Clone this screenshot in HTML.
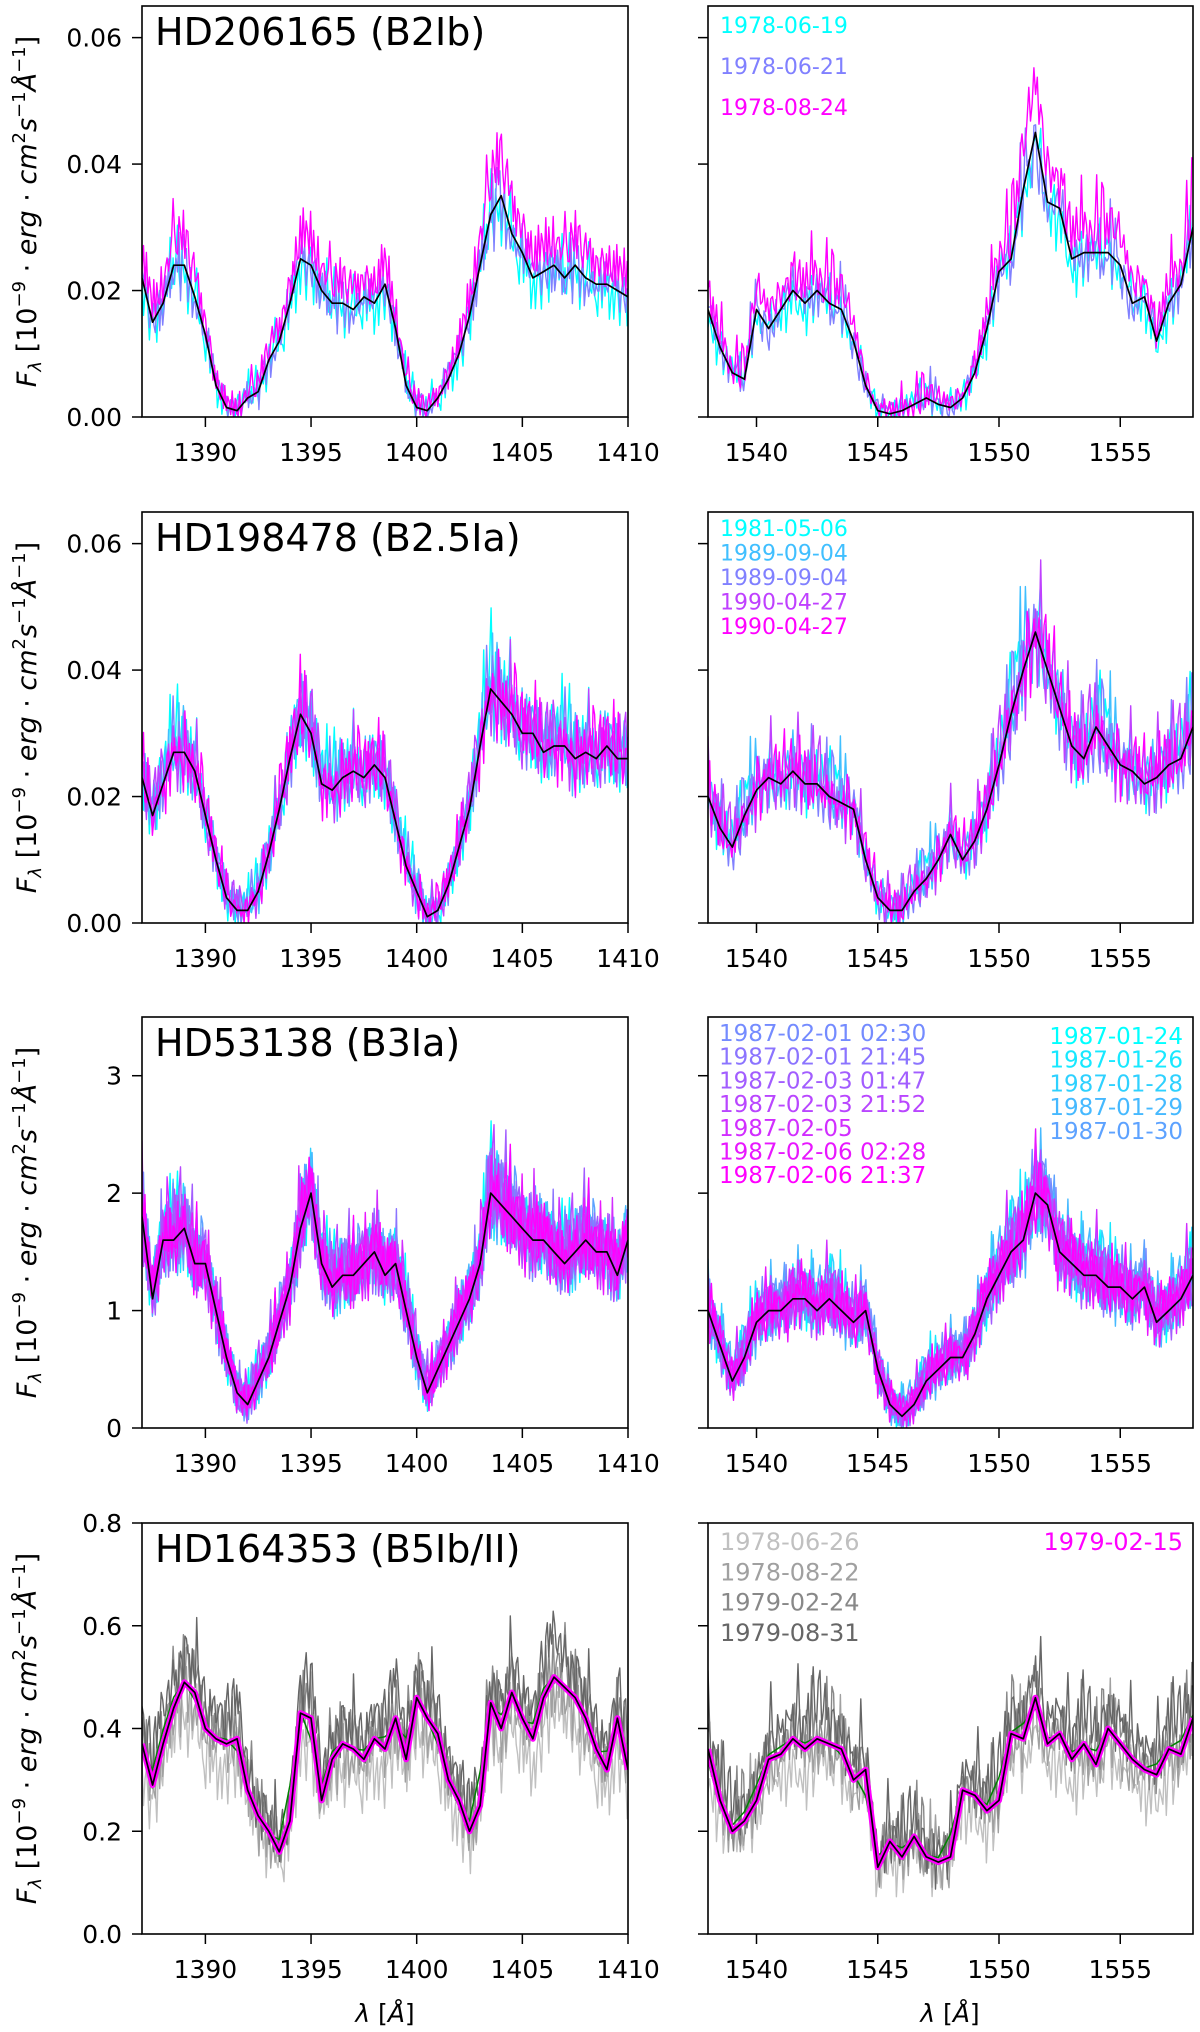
<!DOCTYPE html>
<html><head><meta charset="utf-8">
<style>
html,body{margin:0;padding:0;background:#fff;}
svg{display:block;font-family:"DejaVu Sans","Liberation Sans",sans-serif;}
</style></head>
<body>
<svg id="fig" width="1200" height="2032" viewBox="0 0 1200 2032" xmlns="http://www.w3.org/2000/svg"></svg>
<script>
// ---------- data ----------
const leftStart = 1387, rightStart = 1538, meanStep = 0.5;
const r1Left = [22,15,18,24,24,19,13,5,1.5,1,3,4,9,12,18,25,24,20,18,18,17,19,18,21,14,5,1.5,1,3,6,10,16,24,32,35,29,26,22,23,24,22,24,22,21,21,20,19];
const r1Right = [17,11,7,6,17,14,17,20,18,20,18,17,12,5,1,0.5,1,2,3,2,1.5,3,7,14,23,25,36,45,34,33,25,26,26,26,24,18,19,12,18,21,30];
const r2Left = [23,17,22,27,27,24,17,10,4,2,2,5,11,18,26,33,30,22,21,23,24,23,25,23,16,9,5,1,2,6,12,18,28,37,35,33,30,30,27,28,28,26,27,26,28,26,26];
const r2Right = [20,15,12,17,21,23,22,24,22,22,20,19,18,10,4,2,2,5,7,10,14,10,13,18,25,33,40,46,40,34,28,26,31,28,25,24,22,23,25,26,31];
const r3Left = [18,11,16,16,17,14,14,10,6,3,2,4,6,9,12,17,20,14,12,13,13,14,15,13,14,10,6,3,5,7,9,11,14,20,19,18,17,16,16,15,14,15,16,15,15,13,16];
const r3Right = [10,7,4,6,9,10,10,11,11,10,11,10,9,10,5,2,1,2,4,5,6,6,8,11,13,15,16,20,19,15,14,13,13,12,12,11,12,9,10,11,13];
const r4Left = [37,29,37,44,49,47,40,38,37,38,28,23,20,16,22,43,42,26,34,37,36,34,38,36,42,34,46,42,39,30,26,20,25,45,40,47,42,38,46,50,48,46,42,36,32,42,32];
const r4Right = [36,26,20,22,26,34,35,38,36,38,37,36,30,32,13,18,15,19,15,14,15,28,27,24,26,39,38,46,37,39,34,37,33,40,37,34,32,31,36,35,42];
const rowUnits = [0.001,0.001,0.1,0.01];
const jitter = [0.3,-0.8,0.5,1.0,-0.2,-0.9,0.6,0.1,-0.5,0.9,-1.0,0.4,0.7,-0.3,-0.7,0.2,0.8,-0.6,0.0,1.0,-0.4,0.5,-0.9,0.3,0.6,-0.1,-0.8,0.9,0.2,-0.5,0.7,-1.0,0.4,0.1,-0.6,0.8,-0.2,0.5,-0.7,0.3,0.9,-0.4,0.0,-0.9,0.6,0.2,-0.3,1.0,-0.5,0.4,0.7,-0.8,0.1];
const yMax = [0.065,0.065,3.5,0.8];
const yTicks = [[0,0.02,0.04,0.06],[0,0.02,0.04,0.06],[0,1,2,3],[0,0.2,0.4,0.6,0.8]];
const yTickLabels = [["0.00","0.02","0.04","0.06"],["0.00","0.02","0.04","0.06"],["0","1","2","3"],["0.0","0.2","0.4","0.6","0.8"]];
const leftTicks = [1390,1395,1400,1405,1410];
const rightTicks = [1540,1545,1550,1555];
const titles = ["HD206165 (B2Ib)","HD198478 (B2.5Ia)","HD53138 (B3Ia)","HD164353 (B5Ib/II)"];
const r1Colors = ["#00ffff","#8080ff","#ff00ff"];
const r1Scale = [0.95,0.97,1.15];
const r1Labels = ["1978-06-19","1978-06-21","1978-08-24"];
const r2Colors = ["#00ffff","#40bfff","#8080ff","#bf40ff","#ff00ff"];
const r2Scale = [1.03,1.0,0.98,1.0,0.99];
const r2Labels = ["1981-05-06","1989-09-04","1989-09-04","1990-04-27","1990-04-27"];
const r3Colors = ["#00ffff","#17e8ff","#2ed1ff","#46b9ff","#5da2ff","#748bff","#8b74ff","#a25dff","#b946ff","#d12eff","#e817ff","#ff00ff"];
const r3Scale = [1.02,1.0,1.01,0.99,1.0,1.0,1.01,0.99,1.0,1.02,0.98,1.0];
const r3LeftLabels = ["1987-02-01 02:30","1987-02-01 21:45","1987-02-03 01:47","1987-02-03 21:52","1987-02-05","1987-02-06 02:28","1987-02-06 21:37"];
const r3RightLabels = ["1987-01-24","1987-01-26","1987-01-28","1987-01-29","1987-01-30"];
const r4Colors = ["#c0c0c0","#a0a0a0","#888888","#666666"];
const r4Scale = [0.85,0.95,1.06,1.12];
const r4Labels = ["1978-06-26","1978-08-22","1979-02-24","1979-08-31"];
const noiseAmp = [0.0036,0.0045,0.22,0.045];

// ---------- layout ----------
const NS="http://www.w3.org/2000/svg";
const svg=document.getElementById('fig');
const rowTop=[6,512,1017,1523], rowH=411;
const panelX=[[142,628],[708,1193]];
const xr=[[1387,1410],[1538,1558]];
function mk(tag,attrs,parent){const e=document.createElementNS(NS,tag);for(const k in attrs)e.setAttribute(k,attrs[k]);(parent||svg).appendChild(e);return e;}
function interp(arr,start,x){const t=(x-start)/meanStep;const i=Math.floor(t);if(i<0)return arr[0];if(i>=arr.length-1)return arr[arr.length-1];const f=t-i;return arr[i]*(1-f)+arr[i+1]*f;}

const means=[[r1Left,r1Right],[r2Left,r2Right],[r3Left,r3Right],[r4Left,r4Right]];
const defs=mk('defs',{});
for(let r=0;r<4;r++){
  for(let c=0;c<2;c++){
    const x0=panelX[c][0],x1=panelX[c][1],y0=rowTop[r],y1=rowTop[r]+rowH;
    const sx=v=>x0+(v-xr[c][0])/(xr[c][1]-xr[c][0])*(x1-x0);
    const sy=v=>y1-v/yMax[r]*(y1-y0);
    const cid='clip'+r+c;
    const cp=mk('clipPath',{id:cid},defs);mk('rect',{x:x0,y:y0,width:x1-x0,height:rowH},cp);
    const g=mk('g',{'clip-path':'url(#'+cid+')'});
    
    
    const arr=means[r][c], st=c?rightStart:leftStart, u=rowUnits[r];
    const meanAt=x=>interp(arr,st,x)*u;
    let colors,scales;
    if(r==0){colors=r1Colors;scales=r1Scale;}else if(r==1){colors=r2Colors;scales=r2Scale;}
    else if(r==2){colors=r3Colors;scales=r3Scale;}else{colors=r4Colors;scales=r4Scale;}
    const step=0.07;
    colors.forEach((col,k)=>{
      let d='';let i=0;
      for(let x=xr[c][0];x<=xr[c][1]+1e-6;x+=step,i++){
        let n=jitter[(i+k*17+c*5)%jitter.length]+0.6*jitter[(i*3+k*7+11)%jitter.length];
        if(jitter[(i*7+k*3)%jitter.length]>0.85) n+=1.2;
        let v=meanAt(x)*scales[k]+noiseAmp[r]*n*(r==3?1:(0.5+meanAt(x)/yMax[r]*1.2));
        if(v<0)v=0;
        d+=(i?'L':'M')+sx(x).toFixed(1)+' '+sy(v).toFixed(1);
      }
      const p=mk('path',{d:d,fill:'none',stroke:col,'stroke-width':1.4,'stroke-linejoin':'round'},g);
      
      
    });
    let md='';let i=0;
    for(let x=xr[c][0];x<=xr[c][1]+1e-6;x+=meanStep,i++){md+=(i?'L':'M')+sx(x).toFixed(1)+' '+sy(meanAt(x)).toFixed(1);}
    if(r==3){
      let gd='';let j=0;
      for(let x=xr[c][0];x<=xr[c][1]+1e-6;x+=meanStep,j++){const v=(meanAt(x)*0.7+0.3*interp(arr,st,x+0.5)*u)*1.0+0.006;gd+=(j?'L':'M')+sx(x).toFixed(1)+' '+sy(v).toFixed(1);}
      const gp=mk('path',{d:gd,fill:'none',stroke:'#008000','stroke-width':1.5},g);
      
      
      const mp=mk('path',{d:md,fill:'none',stroke:'#ff00ff','stroke-width':6,'stroke-linejoin':'round'},g);
      
      
    }
    const bp=mk('path',{d:md,fill:'none',stroke:'#000','stroke-width':1.7,'stroke-linejoin':'round'},g);
    
    
    const fr=mk('rect',{x:x0,y:y0,width:x1-x0,height:rowH,fill:'none',stroke:'#000','stroke-width':1.6});
    
    
    yTicks[r].forEach((t,k)=>{
      const yy=sy(t);
      const tl=mk('line',{x1:x0-10,x2:x0,y1:yy,y2:yy,stroke:'#000','stroke-width':1.5});
      
      
      if(c==0){
        const tx=mk('text',{x:x0-20,y:yy+9,'font-size':25,'text-anchor':'end',fill:'#000'});
        tx.textContent=yTickLabels[r][k];
        
        
      }
    });
    (c?rightTicks:leftTicks).forEach(t=>{
      const xx=sx(t);
      const tl=mk('line',{x1:xx,x2:xx,y1:y1,y2:y1+10,stroke:'#000','stroke-width':1.5});
      
      
      const tx=mk('text',{x:xx,y:y1+44,'font-size':25,'text-anchor':'middle',fill:'#000'});
      tx.textContent=String(t);
      
      
    });
  }
  const tt=mk('text',{x:155,y:rowTop[r]+39,'font-size':38,fill:'#000'});
  tt.textContent=titles[r];
  
  
  const cy=rowTop[r]+rowH/2;
  const yl=mk('text',{x:0,y:0,'font-size':27,'text-anchor':'middle',transform:'translate(36,'+cy+') rotate(-90)'});
  yl.innerHTML='<tspan font-style="italic">F</tspan><tspan font-size="18" font-style="italic" dy="5">λ</tspan><tspan dy="-5"> [10</tspan><tspan font-size="18" dy="-11">−9</tspan><tspan dy="11"> · </tspan><tspan font-style="italic">erg</tspan><tspan> · </tspan><tspan font-style="italic">cm</tspan><tspan font-size="18" dy="-11">2</tspan><tspan font-style="italic" dy="11">s</tspan><tspan font-size="18" dy="-11">−1</tspan><tspan font-style="italic" dy="11">Å</tspan><tspan font-size="18" dy="-11">−1</tspan><tspan dy="11">]</tspan>';
  
  
}
function legend(txt,x,y,col,size,anchor){
  const t=mk('text',{x:x,y:y,'font-size':size,fill:col,'text-anchor':anchor||'start'});
  t.textContent=txt;
  
  
}
r1Labels.forEach((s,k)=>legend(s,720,33+k*41,r1Colors[k],22));
r2Labels.forEach((s,k)=>legend(s,720,536+k*24.5,r2Colors[k],22));
r3LeftLabels.forEach((s,k)=>legend(s,719,1041+k*23.7,r3Colors[5+k],23));
r3RightLabels.forEach((s,k)=>legend(s,1183,1044+k*23.7,r3Colors[k],23,'end'));
r4Labels.forEach((s,k)=>legend(s,720,1550+k*30.3,r4Colors[k],24));
legend("1979-02-15",1183,1550,'#ff00ff',24,'end');
[385,950].forEach(cx=>{
  const t=mk('text',{x:cx,y:2022,'font-size':25,'text-anchor':'middle'});
  t.innerHTML='<tspan font-style="italic">λ</tspan> [<tspan font-style="italic">Å</tspan>]';
  
  
});
</script>
</body></html>
